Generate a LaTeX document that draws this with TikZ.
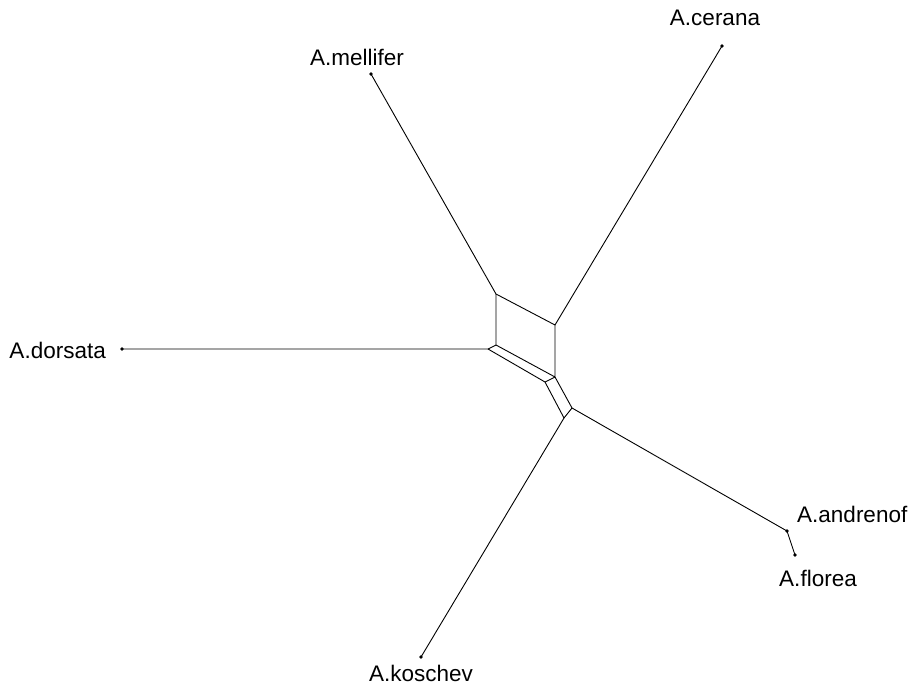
\documentclass[tikz,border=0pt]{standalone}
\usepackage{fontspec}
\setmainfont{Liberation Sans}
\begin{document}
\begin{tikzpicture}[x=1pt,y=-1pt,
  edge/.style={draw=black,line width=0.9pt,line join=round},
  taxon/.style={circle,fill=black,inner sep=0pt,minimum size=3.6pt},
  lbl/.style={font=\fontsize{22.5}{26}\selectfont,inner sep=0pt}]
\useasboundingbox (0,0) rectangle (912,685);
% internal vertices
\coordinate (s1) at (496,294);
\coordinate (s2) at (555,325);
\coordinate (s3) at (496,345);
\coordinate (s4) at (555,377);
\coordinate (p1) at (488,349);
\coordinate (p2) at (545,382);
\coordinate (q1) at (572,408);
\coordinate (q2) at (564,418);
% leaves
\node[taxon] (mel) at (371,74) {};
\node[taxon] (cer) at (722,46) {};
\node[taxon] (dor) at (122,349) {};
\node[taxon] (and) at (787,531) {};
\node[taxon] (flo) at (795,555) {};
\node[taxon] (kos) at (421,657) {};
% labels
\node[lbl] (lmel) at (357,57) {A.mellifer};
\node[lbl] (lcer) at (715,18) {A.cerana};
\node[lbl,anchor=east] (ldor) at (106,350) {A.dorsata};
\node[lbl,anchor=west] (land) at (797,514) {A.andrenof};
\node[lbl] (lflo) at (818,578) {A.florea};
\node[lbl] (lkos) at (421,673) {A.koschev};
% network
\draw[edge] (mel.center) -- (s1) -- (s2) -- (cer.center);
\draw[edge] (s1) -- (s3) -- (s4) -- (s2);
\draw[edge] (dor.center) -- (p1) -- (p2) -- (s4);
\draw[edge] (p1) -- (s3);
\draw[edge] (s4) -- (q1) -- (q2) -- (p2);
\draw[edge] (q1) -- (and.center) -- (flo.center);
\draw[edge] (q2) -- (kos.center);
\end{tikzpicture}
\end{document}
